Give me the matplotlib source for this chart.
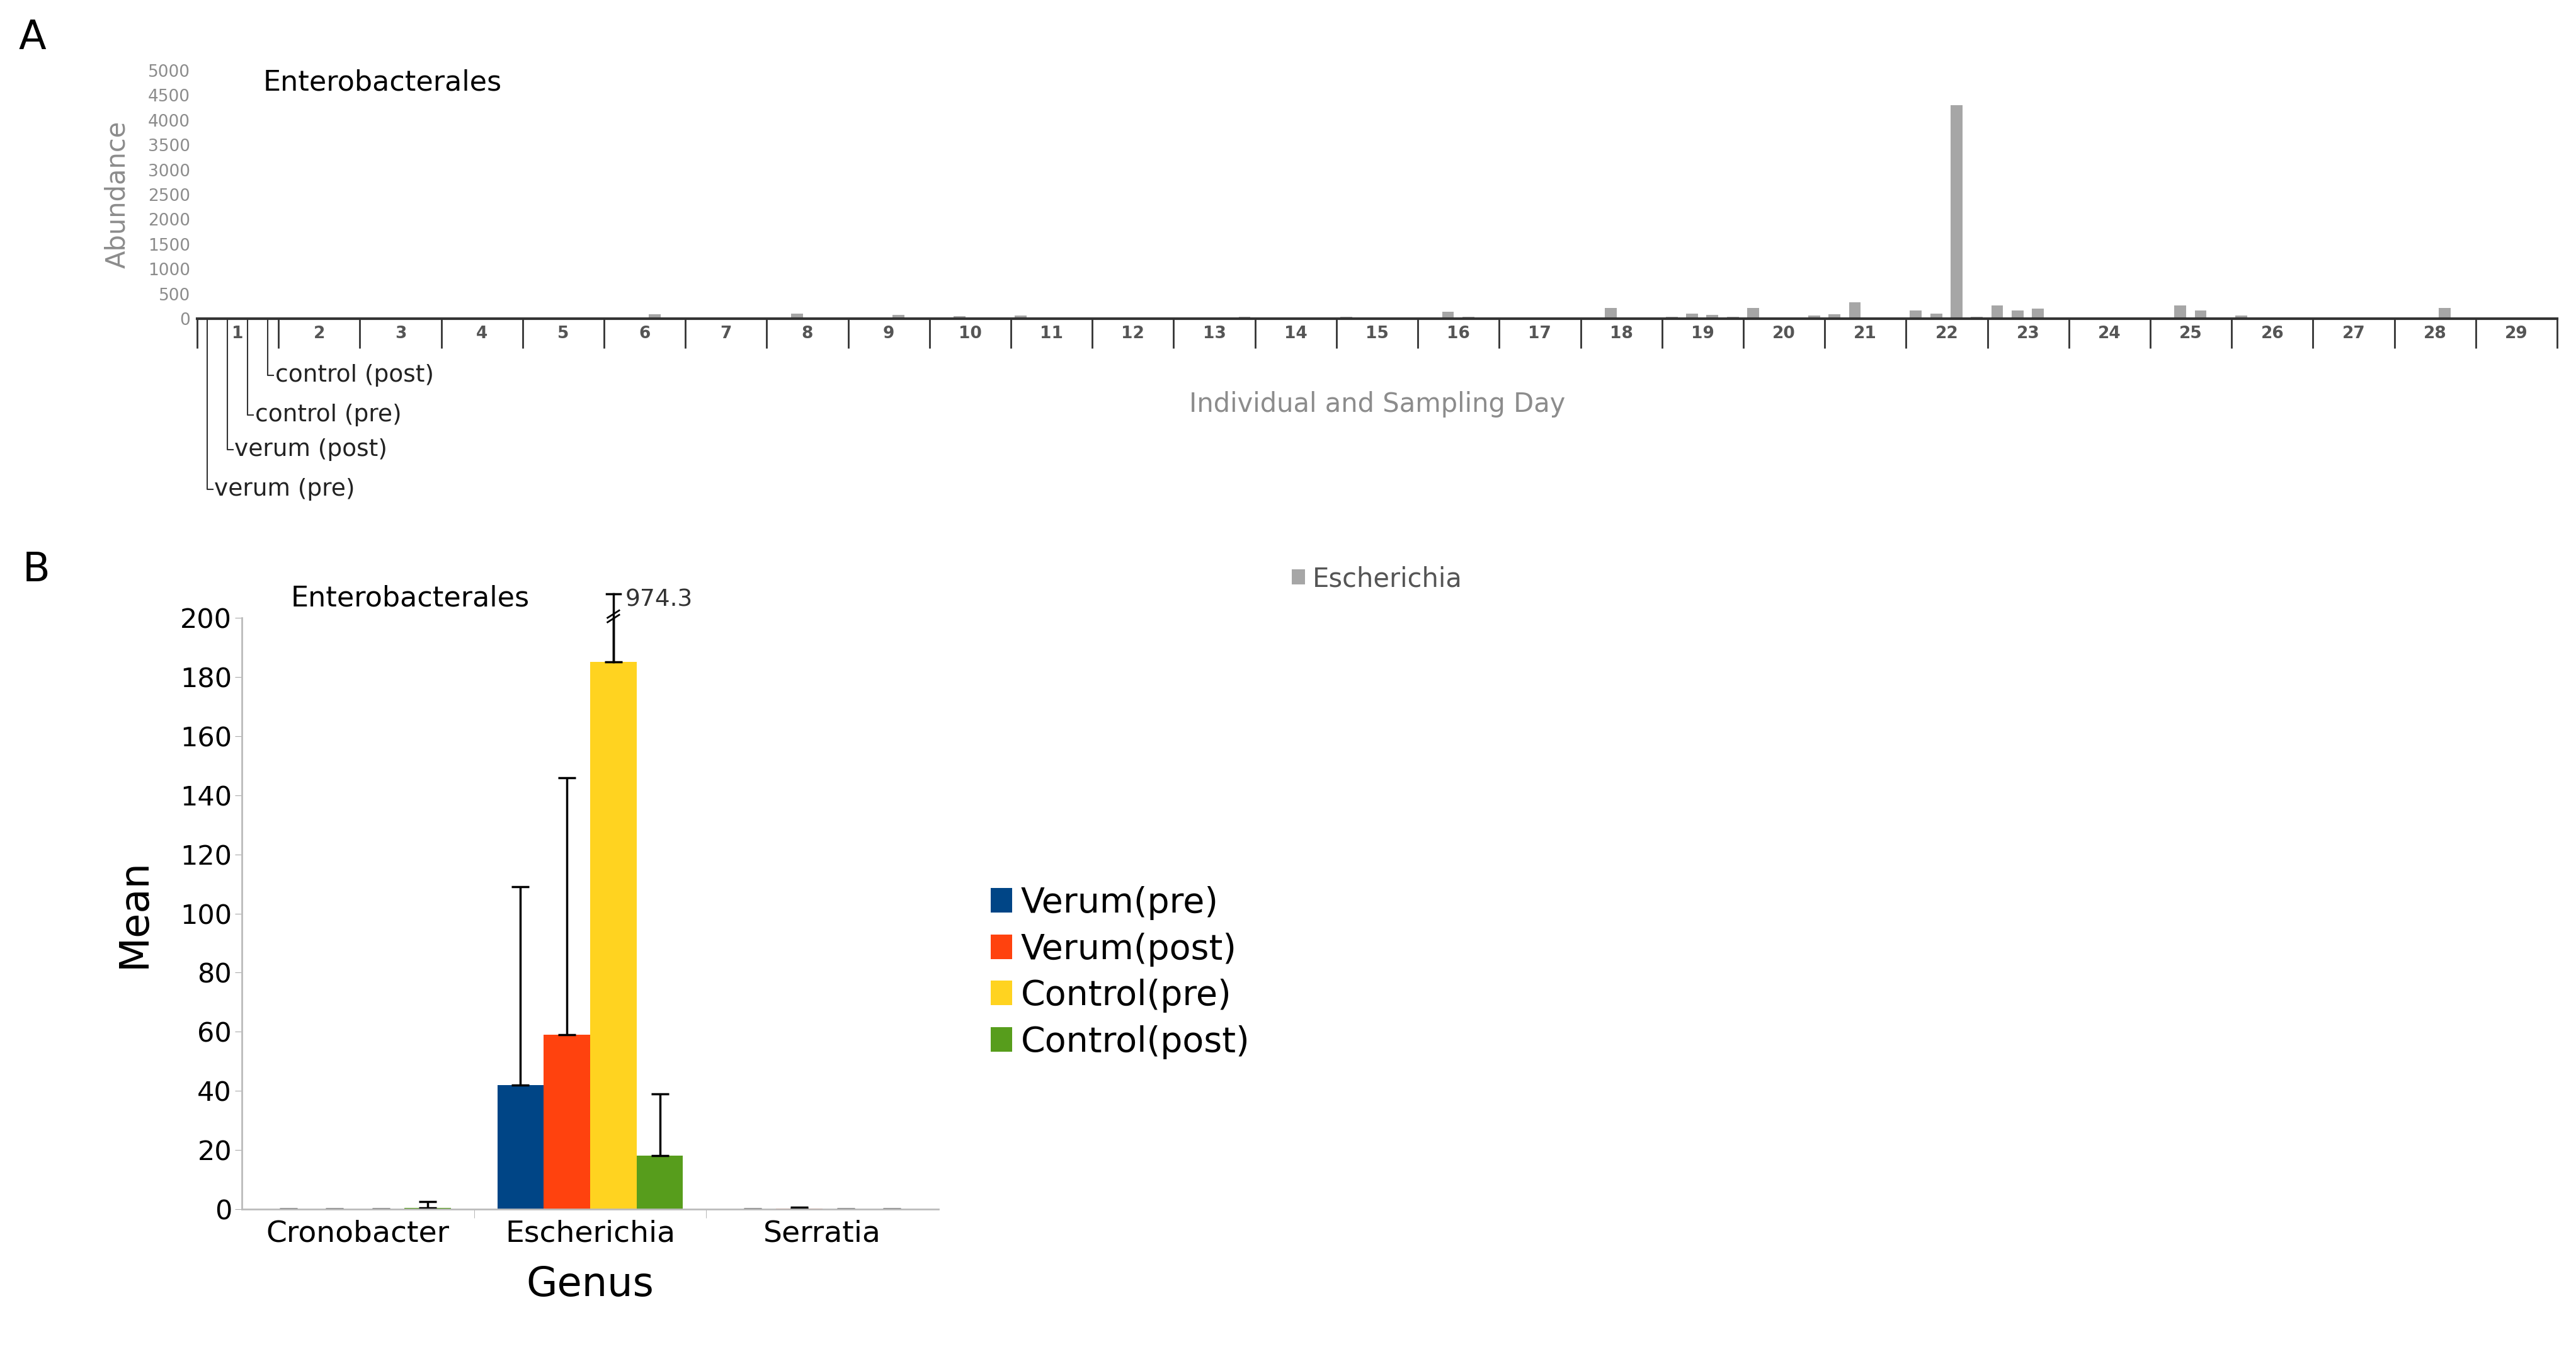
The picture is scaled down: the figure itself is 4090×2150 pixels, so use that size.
import numpy as np
import matplotlib.pyplot as plt

# panel A: Escherichia abundance per individual (4 samples each)
individuals = [str(i) for i in range(1, 30)]
verum_pre = [0, 0, 0, 0, 0, 0, 0, 0, 0, 0, 60, 0, 15, 0, 40, 15, 0, 0, 40, 210, 95, 160, 265, 30, 30, 60, 5, 30, 0]
verum_post = [0, 0, 0, 0, 15, 0, 30, 105, 0, 50, 30, 0, 0, 0, 0, 135, 0, 210, 105, 0, 325, 105, 160, 0, 265, 0, 0, 30, 0]
control_pre = [15, 0, 0, 0, 15, 95, 0, 0, 75, 0, 0, 0, 0, 0, 15, 40, 0, 0, 75, 0, 0, 4300, 200, 30, 170, 30, 5, 210, 0]
control_post = [0, 0, 0, 30, 30, 0, 0, 30, 15, 0, 0, 0, 40, 0, 0, 0, 0, 0, 40, 60, 0, 35, 0, 30, 30, 0, 5, 30, 0]
sample_names = ['verum (pre)', 'verum (post)', 'control (pre)', 'control (post)']

# panel B: mean per genus
genera = ['Cronobacter', 'Escherichia', 'Serratia']
groups = ['Verum(pre)', 'Verum(post)', 'Control(pre)', 'Control(post)']
means = [[0.1, 42, 0.1], [0.1, 59, 0.3], [0.1, 185, 0.1], [0.5, 18, 0.1]]
err_up = [[0, 67, 0], [0, 87, 0.3], [0, 789.3, 0], [2.0, 21, 0]]
broken_label = '974.3'
colors = ['#004586', '#ff420e', '#ffd320', '#579d1c']

fig = plt.figure(figsize=(40.91, 21.5), dpi=100)
gray = '#8c8c8c'

# ---------------- panel A ----------------
axA = fig.add_axes([313/4091, 1-506/2150, (4060-313)/4091, (506-112)/2150])
series = [verum_pre, verum_post, control_pre, control_post]
x = np.arange(len(individuals))
for j, s in enumerate(series):
    axA.bar(x + 0.12 + 0.25*j, s, width=0.145, color='#a6a6a6', align='center',
            label='Escherichia' if j == 0 else None)
axA.set_xlim(0, len(individuals))
axA.set_ylim(0, 5000)
axA.set_yticks(range(0, 5001, 500))
axA.tick_params(axis='y', length=0, labelsize=19, labelcolor=gray, pad=8)
axA.set_xticks(np.arange(0, len(individuals)+1))
axA.set_xticklabels([])
axA.tick_params(axis='x', which='major', direction='out', length=34, width=2, color='#333333')
axA.set_xticks(x + 0.5, minor=True)
axA.set_xticklabels(individuals, minor=True, fontsize=19, fontweight='bold', color='#555555')
axA.tick_params(axis='x', which='minor', length=0, pad=8)
for sp in ['top', 'right', 'left']:
    axA.spines[sp].set_visible(False)
axA.spines['bottom'].set_linewidth(3)
axA.spines['bottom'].set_color('#333333')
axA.set_xlabel('Individual and Sampling Day', fontsize=30, color=gray, labelpad=45)
axA.set_ylabel('Abundance', fontsize=30, color=gray, labelpad=20)
axA.text(0.028, 0.92, 'Enterobacterales', transform=axA.transAxes, fontsize=32)
axA.legend(loc='upper center', bbox_to_anchor=(0.5, -0.9), frameon=False, fontsize=30,
           labelcolor='#555555', handlelength=0.5, handleheight=0.5, handletextpad=0.3)

# callouts for the four samples of individual 1
depths = [195, 150, 110, 65]
for j, name in enumerate(sample_names):
    xc = 0.12 + 0.25*j
    y1 = -depths[j]
    axA.annotate('', xy=(xc, 0), xycoords=('data', 'axes points'),
                 xytext=(xc, y1), textcoords=('data', 'axes points'))
    axA.plot([xc, xc], [0, 0], transform=axA.transData)
    trans = axA.get_xaxis_transform()
    yfrac = y1 / (394 * 0.72)
    axA.plot([xc, xc, xc + 0.07], [0, yfrac, yfrac], transform=trans, color='#333333',
             lw=1.5, clip_on=False)
    axA.text(xc + 0.09, yfrac, name, transform=trans, fontsize=27, va='center', color='#222222')

# ---------------- panel B ----------------
axB = fig.add_axes([384/4091, 1-1920/2150, (1490-384)/4091, (1920-981)/2150])
xb = np.arange(len(genera))
w = 0.2
for j, g in enumerate(groups):
    pos = xb - 0.3 + w*j
    axB.bar(pos, means[j], width=w, color=colors[j], label=g)
    axB.errorbar(pos, means[j], yerr=[np.zeros(len(genera)), err_up[j]], fmt='none',
                 ecolor='black', elinewidth=2.5, capsize=10, capthick=2.5, clip_on=True)
# broken error bar of Escherichia control(pre)
xbk = xb[1] - 0.3 + w*2
axB.plot([xbk, xbk], [185, 208], color='black', lw=2.5, clip_on=False)
axB.plot([xbk - 0.03, xbk + 0.03], [208, 208], color='black', lw=2.5, clip_on=False)
axB.plot([xbk - 0.025, xbk + 0.025], [198.5, 201], color='black', lw=2, clip_on=False)
axB.plot([xbk - 0.025, xbk + 0.025], [200, 202.5], color='black', lw=2, clip_on=False)
axB.text(xbk + 0.05, 206, broken_label, fontsize=27, va='center', color='#333333')

axB.set_xlim(-0.5, 2.5)
axB.set_ylim(0, 200)
axB.set_yticks(range(0, 201, 20))
axB.tick_params(axis='y', labelsize=31, length=8, color='#aaaaaa')
axB.set_xticks(xb)
axB.set_xticklabels(genera, fontsize=34)
axB.tick_params(axis='x', length=0, pad=12)
axB.set_xticks([0.5, 1.5], minor=True)
axB.tick_params(axis='x', which='minor', length=10, color='#aaaaaa')
for sp in ['top', 'right']:
    axB.spines[sp].set_visible(False)
axB.spines['left'].set_color('#bbbbbb')
axB.spines['bottom'].set_color('#bbbbbb')
axB.spines['left'].set_linewidth(2)
axB.spines['bottom'].set_linewidth(2)
axB.set_ylabel('Mean', fontsize=46, labelpad=30)
axB.set_xlabel('Genus', fontsize=46, labelpad=20)
axB.text(0.07, 1.02, 'Enterobacterales', transform=axB.transAxes, fontsize=32)
axB.legend(loc='center left', bbox_to_anchor=(1.03, 0.4), frameon=False, fontsize=40,
           handlelength=0.6, handleheight=0.7, handletextpad=0.25, labelspacing=0.35)

fig.text(30/4091, 1-60/2150, 'A', fontsize=46, va='center')
fig.text(36/4091, 1-905/2150, 'B', fontsize=46, va='center')

fig.savefig('out.png', dpi=100)
